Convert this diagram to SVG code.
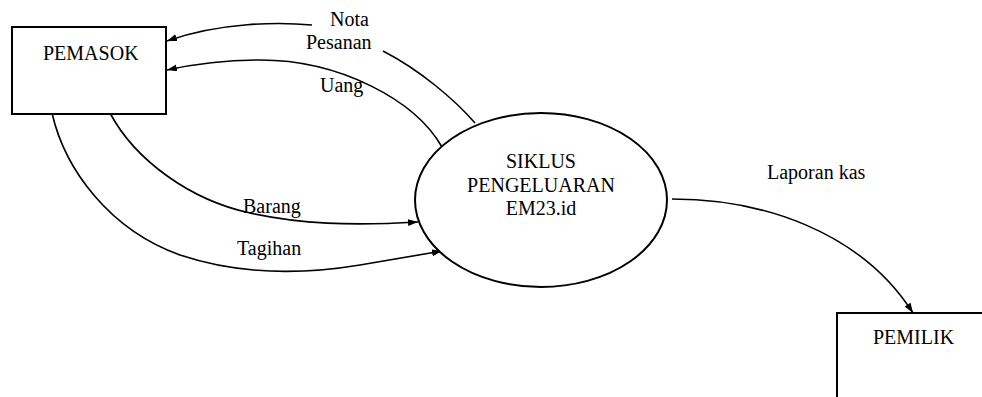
<svg xmlns="http://www.w3.org/2000/svg" width="982" height="397" viewBox="0 0 982 397">
<style>
text{font-family:'Liberation Serif','Times New Roman',Tinos,'DejaVu Serif',serif;font-size:20px;fill:#000}
.box{fill:#fff;stroke:#000;stroke-width:2}
.flow{fill:none;stroke:#000;stroke-width:1.6}
</style>
<defs>
<marker id="ah" markerUnits="userSpaceOnUse" markerWidth="11" markerHeight="8" refX="10" refY="3.5" orient="auto">
<path d="M0,0 L10,3.5 L0,7 z" fill="#000"/>
</marker>
</defs>
<rect width="982" height="397" fill="#fff"/>
<g id="connectors">
<path class="flow" d="M475,123 C455,100 420,70 383,51"/>
<path class="flow" d="M312,25 C280,22 220,22 167,41" marker-end="url(#ah)"/>
<path class="flow" d="M442,147 C415,100 340,60 260,60 C220,60 190,65 167,70" marker-end="url(#ah)"/>
<path class="flow" d="M110,113 C135,160 190,200 250,213 C300,224 350,226 418,222" marker-end="url(#ah)"/>
<path class="flow" d="M52,113 C65,170 110,230 180,255 C240,275 300,275 360,265 C390,260 420,255 442,251" marker-end="url(#ah)"/>
<path class="flow" d="M672,199 C760,199 860,230 913,313" marker-end="url(#ah)"/>
<text x="330" y="26" font-family="Liberation Serif, serif">Nota</text>
<text x="306" y="49" font-family="Liberation Serif, serif">Pesanan</text>
<text x="320" y="92" font-family="Liberation Serif, serif">Uang</text>
<text x="243" y="213" font-family="Liberation Serif, serif">Barang</text>
<text x="237" y="255" font-family="Liberation Serif, serif">Tagihan</text>
<text x="767" y="179" font-family="Liberation Serif, serif">Laporan kas</text>
</g>
<g id="pemasok">
<rect class="box" x="12" y="27" width="154" height="87"/>
<text x="43" y="60" font-family="Liberation Serif, serif">PEMASOK</text>
</g>
<g id="siklus">
<ellipse class="box" cx="541" cy="200" rx="126" ry="87"/>
<text x="541" y="168" text-anchor="middle" font-family="Liberation Serif, serif">SIKLUS</text>
<text x="541" y="192" text-anchor="middle" font-family="Liberation Serif, serif">PENGELUARAN</text>
<text x="541" y="215" text-anchor="middle" font-family="Liberation Serif, serif">EM23.id</text>
</g>
<g id="pemilik">
<rect class="box" x="837" y="313" width="160" height="100"/>
<text x="873" y="344" font-family="Liberation Serif, serif">PEMILIK</text>
</g>
</svg>
